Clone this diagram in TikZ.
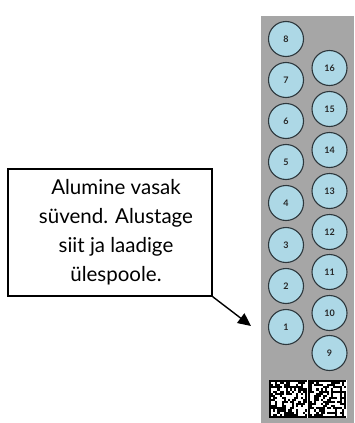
\documentclass[tikz,border=0pt]{standalone}
\usepackage{fontspec}
\setmainfont{Lato}
\usetikzlibrary{arrows.meta}
\definecolor{stripgray}{RGB}{166,166,166}
\definecolor{welldot}{RGB}{173,216,230}
\definecolor{wellline}{RGB}{45,55,60}
\begin{document}
\begin{tikzpicture}[x=1pt,y=-1pt,
  well/.style={circle,draw=wellline,line width=1.1pt,fill=welldot,minimum size=35pt,inner sep=0pt,font=\fontsize{9}{10}\selectfont\bfseries,text=black!85},
  callout/.style={draw=black,line width=1.4pt,fill=white,minimum width=204pt,minimum height=127pt},
  callouttext/.style={align=center,inner sep=0pt,font=\fontsize{20.5}{29}\selectfont},
  pointer/.style={line width=1.4pt,-{Triangle[length=13pt,width=12pt]}}]
\useasboundingbox (0,0) rectangle (354,423);
\fill[white] (0,0) rectangle (354,423);
\fill[stripgray] (261,16) rectangle (354,423);
% left column wells 8..1
\foreach \k/\yy in {8/39,7/80,6/121,5/162,4/203,3/245,2/286,1/327}
  \node[well] (w\k) at (286,\yy) {\k};
% right column wells 16..9
\foreach \k/\yy in {16/68,15/109,14/150,13/191,12/232,11/272,10/313,9/353}
  \node[well] (w\k) at (329.5,\yy) {\k};
% barcode
\fill[white] (269,380) rectangle (347,418);
\pgfmathsetseed{7}
\foreach \h in {0,1}{
  \foreach \c in {0,...,17}{
    \foreach \r in {0,...,17}{
      \pgfmathrandominteger{\bit}{0}{1}
      \ifnum\bit=1
        \fill[black] ({269+\h*39+\c*2.1},{380+\r*2.1}) rectangle ++(2.1,2.1);
      \fi
    }
  }
  \fill[black] ({269+\h*39},380) rectangle ++(2.1,37.8);
  \fill[black] ({269+\h*39},415.9) rectangle ++(37.8,2.1);
  \fill[black] ({269+\h*39},380) rectangle ++(37.8,2.1);
}
% callout
\node[callout] (box) at (110,232.5) {};
\node[callouttext] (boxtext) at (116,232) {Alumine vasak\\süvend. Alustage\\siit ja laadige\\ülespoole.};
\coordinate (tip) at (251,326);
\draw[pointer] (box.south east) -- (tip);
\end{tikzpicture}
\end{document}
